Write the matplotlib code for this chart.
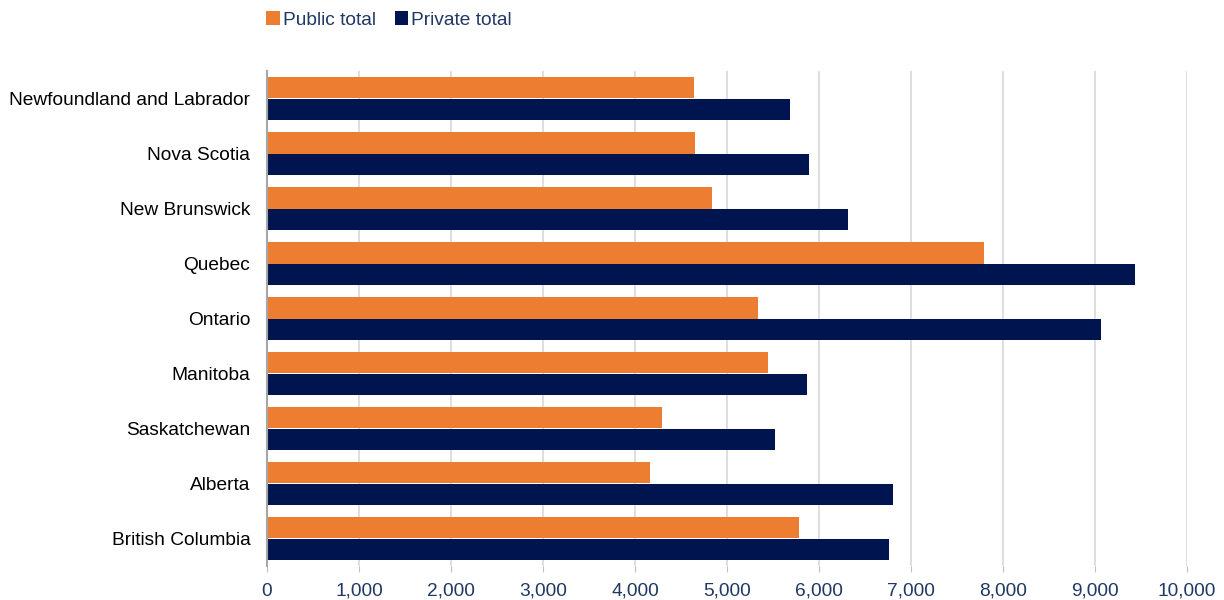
import numpy as np
import matplotlib.pyplot as plt

# Data
provinces = ['Newfoundland and Labrador', 'Nova Scotia', 'New Brunswick', 'Quebec',
             'Ontario', 'Manitoba', 'Saskatchewan', 'Alberta', 'British Columbia']
public_total = [4640, 4655, 4837, 7797, 5337, 5446, 4293, 4163, 5783]
private_total = [5680, 5895, 6315, 9432, 9062, 5870, 5522, 6804, 6761]
x_ticks = [0, 1000, 2000, 3000, 4000, 5000, 6000, 7000, 8000, 9000, 10000]

plt.rcParams['font.family'] = ['Liberation Sans', 'DejaVu Sans']

orange = '#ED7D31'
navy = '#00154F'
label_blue = '#203864'

fig = plt.figure(figsize=(12.24, 6), dpi=100)
ax = fig.add_axes([267 / 1224, 1 - 566 / 600, 920 / 1224, 495 / 600])

y = np.arange(len(provinces))
h = 0.39
ax.barh(y - h / 2, public_total, height=h, color=orange, label='Public total')
ax.barh(y + h / 2, private_total, height=h, color=navy, label='Private total')

ax.set_ylim(len(provinces) - 0.5, -0.5)
ax.set_xlim(0, 10000)
ax.set_yticks(y)
ax.set_yticklabels(provinces, fontsize=13.75, color='black')
ax.set_xticks(x_ticks)
ax.set_xticklabels([f'{v:,}' for v in x_ticks], fontsize=13.75, color=label_blue)
ax.tick_params(axis='y', length=0, pad=12)
ax.tick_params(axis='x', length=4, color='#BFBFBF', pad=8)

ax.grid(axis='x', color='#D9D9D9', linewidth=1.2)
ax.set_axisbelow(True)
for s in ['top', 'right', 'bottom']:
    ax.spines[s].set_visible(False)
ax.spines['left'].set_color('#A6A6A6')
ax.spines['left'].set_linewidth(1.5)

leg = ax.legend(loc='lower left', bbox_to_anchor=(-0.009, 1.07), ncol=2, frameon=False,
                fontsize=13.75, handlelength=0.7, handleheight=0.7, handletextpad=0.15,
                columnspacing=1.0, borderaxespad=0)
for t in leg.get_texts():
    t.set_color(label_blue)

fig.savefig('out.png', dpi=100)
